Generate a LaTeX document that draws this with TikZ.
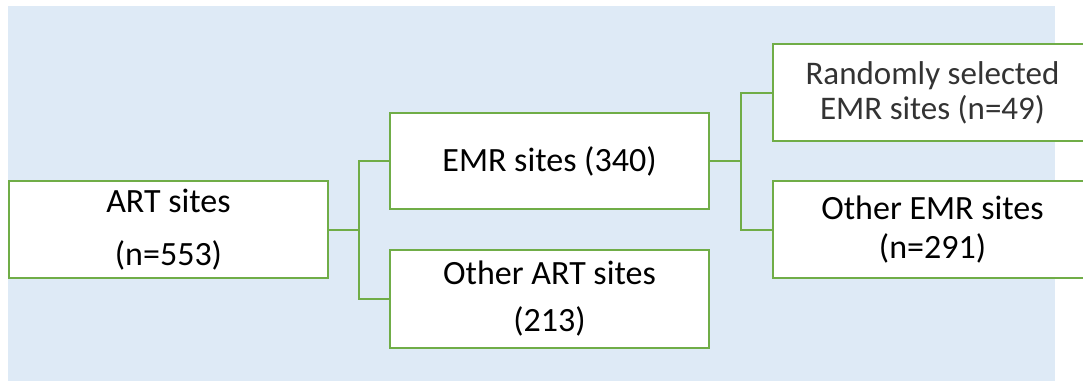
\documentclass[tikz,border=0pt]{standalone}
\usepackage{fontspec}
\setmainfont{Carlito}
\usetikzlibrary{calc}
\definecolor{panel}{HTML}{DEEAF6}
\definecolor{leaf}{HTML}{70AD47}
\tikzset{
  box/.style={draw=leaf, line width=2pt, fill=white, anchor=north west,
    inner sep=0pt, minimum width=319pt, align=center},
  link/.style={draw=leaf, line width=2pt}
}
\begin{document}
\begin{tikzpicture}[x=1pt, y=-1pt]
  \useasboundingbox (0,0) rectangle (1083,381);
  \clip (0,0) rectangle (1083,381);
  % shaded panel behind the tree
  \fill[panel] (8,6) rectangle (1055,381);

  % boxes
  \node[box, minimum height=97pt, font=\fontsize{34}{53}\selectfont] (art) at (8,180) {ART sites\\(n=553)};
  \node[box, minimum height=96pt, font=\fontsize{34}{40}\selectfont] (emr) at (389,112) {EMR sites (340)};
  \node[box, minimum height=98pt, font=\fontsize{34}{47}\selectfont] (oart) at (389,249) {Other ART sites\\(213)};
  \node[box, minimum height=97pt, font=\fontsize{33}{35}\selectfont, text=black!80] (rnd) at (772,43) {Randomly selected\\EMR sites (n=49)};
  \node[box, minimum height=97pt, font=\fontsize{34}{39}\selectfont] (oemr) at (772,180) {Other EMR sites\\(n=291)};

  % junction points
  \coordinate (j1) at ($(art.east)!0.5!(emr.west |- art.east)$);
  \coordinate (j2) at ($(emr.east)!0.5!(rnd.west |- emr.east)$);

  % connectors
  \draw[link] (art.east) -- (j1);
  \draw[link] (emr.west) -| (j1) |- (oart.west);
  \draw[link] (emr.east) -- (j2);
  \draw[link] (rnd.west) -| (j2) |- (oemr.west);
\end{tikzpicture}
\end{document}
